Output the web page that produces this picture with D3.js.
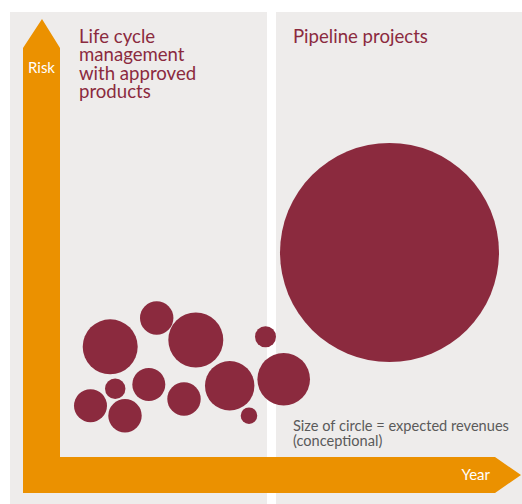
<!DOCTYPE html>
<html>
<head>
<meta charset="utf-8">
<script src="https://cdn.jsdelivr.net/npm/d3@7"></script>
<style>
  body { margin: 0; background: #fff; }
  svg { display: block; }
  text { font-family: Lato, "Open Sans", sans-serif; }
</style>
</head>
<body>
<svg id="chart"></svg>
<script>
// conceptual data: year position, risk level, expected revenue (relative)
var names = ["lcm1","lcm2","lcm3","lcm4","lcm5","lcm6","lcm7","lcm8","lcm9","lcm10","lcm11","lcm12","pipeline"];
var year = [50.2, 96.7, 135.8, 205.5, 223.7, 169.7, 189, 124, 88.8, 55.2, 30.5, 65, 329.5];
var risk = [110.2, 139, 117, 120.3, 77.8, 71.2, 41.3, 58, 72.5, 68.2, 51.3, 41.3, 204.5];
var revenue = [6.3, 2.33, 6.3, 0.92, 5.77, 5.09, 0.57, 2.33, 2.27, 0.87, 2.27, 2.33, 100];

var panelTitles = [["Life cycle", "management", "with approved", "products"], ["Pipeline projects"]];
var noteLines = ["Size of circle = expected revenues", "(conceptional)"];
var axisLabels = { x: "Year", y: "Risk" };

var W = 522, H = 504;
var maroon = "#8b2a3e", orange = "#eb9100", grey = "#eeeceb";

var svg = d3.select("#chart").attr("width", W).attr("height", H);

var x = d3.scaleLinear().domain([0, 460]).range([60, 520]);
var y = d3.scaleLinear().domain([0, 400]).range([457, 57]);
var r = d3.scaleSqrt().domain([0, 100]).range([0, 109.5]);

// background panels
svg.append("rect").attr("x", 10).attr("y", 12).attr("width", 257).attr("height", H - 12).attr("fill", grey);
svg.append("rect").attr("x", 276).attr("y", 12).attr("width", W - 276).attr("height", H - 12).attr("fill", grey);

// panel titles, one text per line
var titlePos = [[79, 43], [293, 43]];
panelTitles.forEach(function(lines, i) {
  svg.append("g").selectAll("text")
      .data(lines)
    .enter().append("text")
      .attr("x", titlePos[i][0])
      .attr("y", function(l, j) { return titlePos[i][1] + j * 18.3; })
      .attr("fill", maroon)
      .style("font-size", "18.6px")
      .text(function(l) { return l; });
});

// bubbles
var data = names.map(function(n, i) {
  return { name: n, year: year[i], risk: risk[i], revenue: revenue[i] };
});

svg.append("g").selectAll(".bubble")
    .data(data)
  .enter().append("circle")
    .attr("class", "bubble")
    .attr("cx", function(d) { return x(d.year); })
    .attr("cy", function(d) { return y(d.risk); })
    .attr("r", function(d) { return r(d.revenue); })
    .attr("fill", maroon);

// note
svg.append("g").selectAll("text")
    .data(noteLines)
  .enter().append("text")
    .attr("x", 293)
    .attr("y", function(l, j) { return 431 + j * 14.5; })
    .attr("fill", "#5a5a5a")
    .style("font-size", "14.6px")
    .text(function(l) { return l; });

// axis arrows
var arrow = d3.path();
arrow.moveTo(23, 48);
arrow.lineTo(42, 19);
arrow.lineTo(60, 48);
arrow.lineTo(60, 457);
arrow.lineTo(495, 457);
arrow.lineTo(521, 475);
arrow.lineTo(495, 493);
arrow.lineTo(23, 493);
arrow.closePath();
svg.append("path").attr("d", arrow.toString()).attr("fill", orange);

svg.append("text")
    .attr("x", 41.5).attr("y", 73)
    .attr("text-anchor", "middle")
    .attr("fill", "#fff")
    .style("font-size", "15px")
    .text(axisLabels.y);

svg.append("text")
    .attr("x", 490).attr("y", 480)
    .attr("text-anchor", "end")
    .attr("fill", "#fff")
    .style("font-size", "15px")
    .text(axisLabels.x);
</script>
</body>
</html>
